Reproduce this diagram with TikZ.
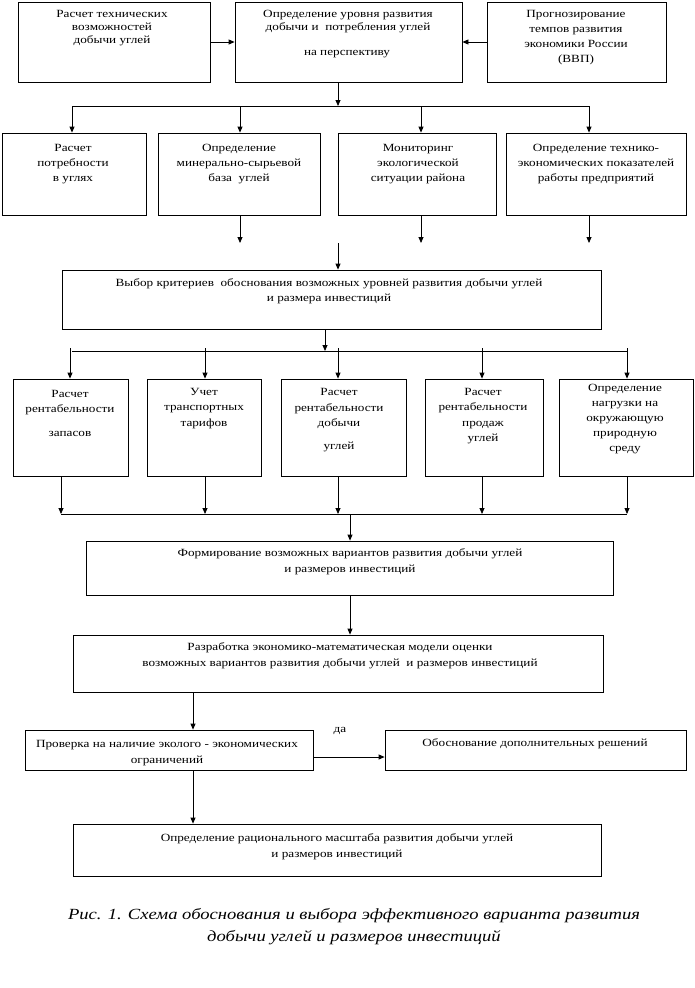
\documentclass[tikz,border=0pt]{standalone}
\usepackage{fontspec}
\setmainfont[FakeStretch=1.2]{Liberation Serif}
\usetikzlibrary{arrows.meta}
\begin{document}
\begin{tikzpicture}[x=1pt,y=-1pt,
  box/.style={draw, line width=0.8pt, inner sep=0pt},
  txt/.style={align=center, inner sep=0pt, font=\fontsize{11}{13}\selectfont},
  txtb/.style={align=center, inner sep=0pt, font=\fontsize{11}{15.5}\selectfont},
  arr/.style={-{Triangle[length=6pt,width=5pt]}, line width=0.8pt},
  ln/.style={line width=0.8pt}]
\useasboundingbox (0,0) rectangle (695,988);
\fill[white] (0,0) rectangle (695,988);
% top row
\node[box, minimum width=192pt, minimum height=80pt] (A) at (114,42) {};
\node[box, minimum width=227pt, minimum height=80pt] (B) at (348.5,42) {};
\node[box, minimum width=179pt, minimum height=80pt] (C) at (576.5,42) {};
\node[txt] (At) at (112,28) {Расчет технических\\возможностей\\добычи углей};
\node[txt] (Bt) at (348,21.5) {Определение уровня развития\\добычи и~ потребления углей};
\node[txt] (Bt2) at (347,54) {на перспективу};
\node[txt, font=\fontsize{11}{15}\selectfont] (Ct) at (576,37.5) {Прогнозирование\\темпов развития\\экономики России\\(ВВП)};
% second row
\node[box, minimum width=144pt, minimum height=82pt] (D) at (74,174) {};
\node[box, minimum width=162pt, minimum height=82pt] (E) at (239,174) {};
\node[box, minimum width=158pt, minimum height=82pt] (F) at (417,174) {};
\node[box, minimum width=180pt, minimum height=82pt] (G) at (596,174) {};
\node[txtb, font=\fontsize{11}{15}\selectfont] (Dt) at (73,164) {Расчет\\потребности\\в углях};
\node[txtb, font=\fontsize{11}{15}\selectfont] (Et) at (239,164) {Определение\\минерально-сырьевой\\база~ углей};
\node[txtb, font=\fontsize{11}{15}\selectfont] (Ft) at (418,164) {Мониторинг\\экологической\\ситуации района};
\node[txtb, font=\fontsize{11}{15}\selectfont] (Gt) at (596,164) {Определение технико-\\экономических показателей\\работы предприятий};
% H
\node[box, minimum width=539pt, minimum height=59pt] (H) at (331.5,299.5) {};
\node[txtb, font=\fontsize{11}{15}\selectfont] (Ht) at (329,291.5) {Выбор критериев~ обоснования возможных уровней развития добычи углей\\и размера инвестиций};
% third row
\node[box, minimum width=115pt, minimum height=97pt] (I) at (70.5,427.5) {};
\node[box, minimum width=114pt, minimum height=97pt] (J) at (204,427.5) {};
\node[box, minimum width=125pt, minimum height=97pt] (K) at (343.5,427.5) {};
\node[box, minimum width=118pt, minimum height=97pt] (L) at (484,427.5) {};
\node[box, minimum width=134pt, minimum height=97pt] (M) at (626,427.5) {};
\node[txtb] (It) at (70,413) {Расчет\\рентабельности\\[8pt]запасов};
\node[txtb] (Jt) at (204,408.5) {Учет\\транспортных\\тарифов};
\node[txtb] (Kt) at (339,420) {Расчет\\рентабельности\\добычи\\[7pt]углей};
\node[txtb] (Lt) at (483,416) {Расчет\\рентабельности\\продаж\\углей};
\node[txtb, font=\fontsize{11}{15}\selectfont] (Mt) at (625,419) {Определение\\нагрузки на\\окружающую\\природную\\среду};
% N, O
\node[box, minimum width=527pt, minimum height=54pt] (N) at (349.5,568) {};
\node[txtb, font=\fontsize{11}{16}\selectfont] (Nt) at (350,562) {Формирование возможных вариантов развития добычи углей\\и размеров инвестиций};
\node[box, minimum width=530pt, minimum height=57pt] (O) at (338,663.5) {};
\node[txtb, font=\fontsize{11}{16}\selectfont] (Ot) at (340,656) {Разработка экономико-математическая модели оценки\\возможных вариантов развития добычи углей~ и размеров инвестиций};
% P, Q, R
\node[box, minimum width=288pt, minimum height=40pt] (P) at (169,750) {};
\node[txtb, font=\fontsize{11}{16}\selectfont] (Pt) at (167,753) {Проверка на наличие эколого - экономических\\ограничений};
\node[box, minimum width=301pt, minimum height=40pt] (Q) at (535.5,750) {};
\node[txt] (Qt) at (535,744) {Обоснование дополнительных решений};
\node[txt] (da) at (340,731) {да};
\node[box, minimum width=528pt, minimum height=52pt] (R) at (337,850) {};
\node[txtb, font=\fontsize{11}{16}\selectfont] (Rt) at (337,847) {Определение рационального масштаба развития добычи углей\\и размеров инвестиций};
% caption
\node[align=center, inner sep=0pt, font=\fontsize{15.5}{22}\itshape] (cap) at (354,927) {Рис. 1. Схема обоснования и выбора эффективного варианта развития\\добычи углей и размеров инвестиций};
% connectors top
\draw[arr] (A.east) -- (A.east -| B.west);
\draw[arr] (C.west) -- (C.west -| B.east);
\coordinate (t1) at (338,106);
\coordinate (h1L) at (72,106);
\coordinate (h1E) at (240,106);
\coordinate (h1F) at (421,106);
\coordinate (h1R) at (589,106);
\draw[arr] (B.south -| t1) -- (t1);
\draw[ln] (h1L) -- (h1R);
\draw[arr] (h1L) -- (h1L |- D.north);
\draw[arr] (h1E) -- (h1E |- E.north);
\draw[arr] (h1F) -- (h1F |- F.north);
\draw[arr] (h1R) -- (h1R |- G.north);
% below row 2
\coordinate (e2) at (240,243);
\coordinate (f2) at (421,243);
\coordinate (g2) at (589,243);
\coordinate (h0) at (338,243);
\draw[arr] (E.south -| e2) -- (e2);
\draw[arr] (F.south -| f2) -- (f2);
\draw[arr] (G.south -| g2) -- (g2);
\draw[arr] (h0) -- (h0 |- H.north);
% below H
\coordinate (h2) at (325,351);
\draw[arr] (H.south -| h2) -- (h2);
\coordinate (hl3a) at (72,351);
\coordinate (hl3b) at (628,351);
\draw[ln] (hl3a) -- (hl3b);
\coordinate (s1) at (70,348);
\coordinate (s2) at (205,348);
\coordinate (s3) at (338,348);
\coordinate (s4) at (482,348);
\coordinate (s5) at (627,348);
\draw[arr] (s1) -- (s1 |- I.north);
\draw[arr] (s2) -- (s2 |- J.north);
\draw[arr] (s3) -- (s3 |- K.north);
\draw[arr] (s4) -- (s4 |- L.north);
\draw[arr] (s5) -- (s5 |- M.north);
% below row 3
\coordinate (u1) at (61,514);
\coordinate (u2) at (205,514);
\coordinate (u3) at (338,514);
\coordinate (u4) at (482,514);
\coordinate (u5) at (627,514);
\draw[arr] (I.south -| u1) -- (u1);
\draw[arr] (J.south -| u2) -- (u2);
\draw[arr] (K.south -| u3) -- (u3);
\draw[arr] (L.south -| u4) -- (u4);
\draw[arr] (M.south -| u5) -- (u5);
\draw[ln] (u1) -- (u5);
\coordinate (n0) at (350,514);
\draw[arr] (n0) -- (n0 |- N.north);
\coordinate (nO) at (350,600);
\draw[arr] (N.south -| nO) -- (nO |- O.north);
\coordinate (x193) at (193,700);
\draw[arr] (O.south -| x193) -- (x193 |- P.north);
\coordinate (y757) at (0,757);
\draw[arr] (P.east |- y757) -- (Q.west |- y757);
\draw[arr] (P.south -| x193) -- (x193 |- R.north);
\end{tikzpicture}
\end{document}
